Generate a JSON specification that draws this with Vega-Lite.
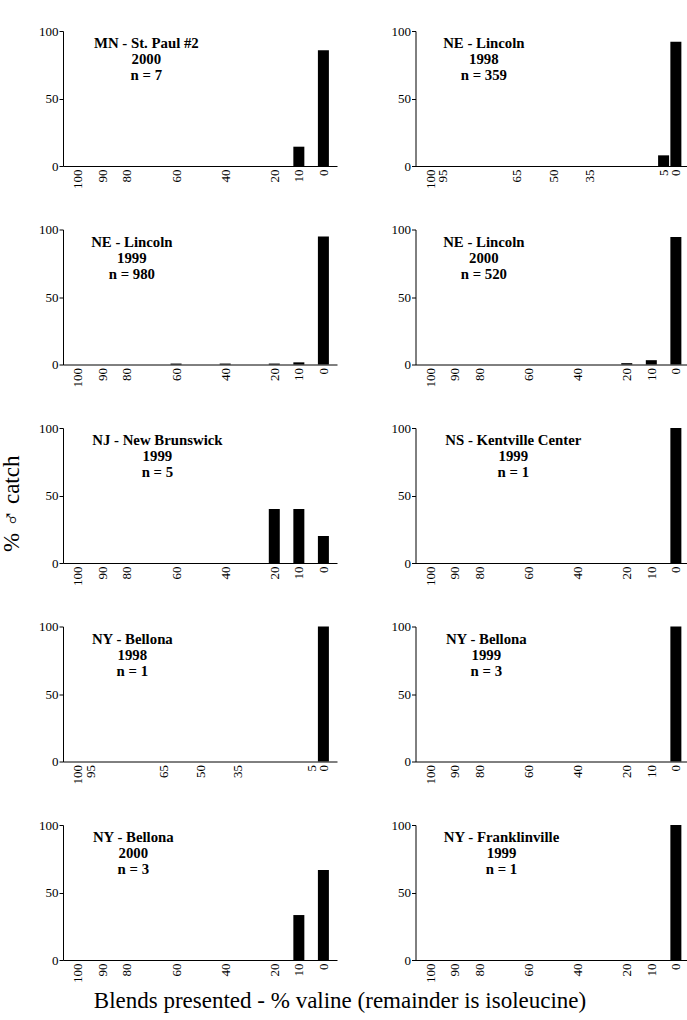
{
  "$schema": "https://vega.github.io/schema/vega-lite/v6.json",
  "padding": {"left": 0, "top": 25, "right": 0, "bottom": 0},
  "background": "white",
  "config": {
    "font": "Liberation Serif",
    "view": {"stroke": null},
    "axis": {"grid": false, "domainColor": "black", "tickColor": "black", "labelColor": "black", "labelFont": "Liberation Serif", "domainWidth": 1, "tickWidth": 1},
    "axisX": {"ticks": false, "labelAngle": -90, "labelPadding": 3, "labelFontSize": 13, "labelFlush": false, "labelOverlap": false, "labelBound": false, "labelSeparation": 0},
    "axisY": {"tickSize": 4, "labelPadding": 1, "labelFontSize": 13, "labelOverlap": false, "labelFlush": false},
    "text": {"font": "Liberation Serif", "fontWeight": "bold", "fontSize": 14.8, "lineHeight": 16, "align": "center", "baseline": "top", "color": "black", "lineBreak": "\n"},
    "bar": {"color": "black"}
  },
  "datasets": {
    "bars": [
      {"panel": "MN2000", "blend": 10, "pct": 14.3},
      {"panel": "MN2000", "blend": 0, "pct": 85.7},
      {"panel": "NE1998", "blend": 5, "pct": 7.9},
      {"panel": "NE1998", "blend": 0, "pct": 92.1},
      {"panel": "NE1999", "blend": 60, "pct": 0.7},
      {"panel": "NE1999", "blend": 40, "pct": 0.7},
      {"panel": "NE1999", "blend": 20, "pct": 0.7},
      {"panel": "NE1999", "blend": 10, "pct": 1.6},
      {"panel": "NE1999", "blend": 0, "pct": 94.8},
      {"panel": "NE2000", "blend": 20, "pct": 1.0},
      {"panel": "NE2000", "blend": 10, "pct": 3.2},
      {"panel": "NE2000", "blend": 0, "pct": 94.4},
      {"panel": "NJ1999", "blend": 20, "pct": 40},
      {"panel": "NJ1999", "blend": 10, "pct": 40},
      {"panel": "NJ1999", "blend": 0, "pct": 20},
      {"panel": "NS1999", "blend": 0, "pct": 100},
      {"panel": "NYB1998", "blend": 0, "pct": 100},
      {"panel": "NYB1999", "blend": 0, "pct": 100},
      {"panel": "NYB2000", "blend": 10, "pct": 33.3},
      {"panel": "NYB2000", "blend": 0, "pct": 66.7},
      {"panel": "NYF1999", "blend": 0, "pct": 100}
    ],
    "labels": [
      {"panel": "MN2000", "label": "MN - St. Paul #2\n2000\nn = 7"},
      {"panel": "NE1998", "label": "NE - Lincoln\n1998\nn = 359"},
      {"panel": "NE1999", "label": "NE - Lincoln\n1999\nn = 980"},
      {"panel": "NE2000", "label": "NE - Lincoln\n2000\nn = 520"},
      {"panel": "NJ1999", "label": "NJ - New Brunswick\n1999\nn = 5"},
      {"panel": "NS1999", "label": "NS - Kentville Center\n1999\nn = 1"},
      {"panel": "NYB1998", "label": "NY - Bellona\n1998\nn = 1"},
      {"panel": "NYB1999", "label": "NY - Bellona\n1999\nn = 3"},
      {"panel": "NYB2000", "label": "NY - Bellona\n2000\nn = 3"},
      {"panel": "NYF1999", "label": "NY - Franklinville\n1999\nn = 1"}
    ]
  },
  "title": {"text": "Blends presented - % valine (remainder is isoleucine)", "orient": "bottom", "anchor": "middle", "font": "Liberation Serif", "fontSize": 23, "fontWeight": "normal", "color": "black", "offset": 7, "dx": -4},
  "vconcat": [
    {
      "title": {"text": "% ♂ catch", "orient": "left", "anchor": "middle", "font": "Liberation Serif", "fontSize": 23, "fontWeight": "normal", "color": "black", "offset": 15},
      "spacing": 34.5,
      "vconcat": [
        {"spacing": 53.5, "hconcat": [
          {"width": 274, "height": 135, "layer": [
            {"data": {"name": "bars"}, "transform": [{"filter": "datum.panel === 'MN2000'"}], "mark": {"type": "bar", "width": 11},
             "encoding": {"x": {"field": "blend", "type": "quantitative", "title": null, "scale": {"domain": [104, -3.5], "nice": false, "zero": false}, "axis": {"values": [100, 90, 80, 60, 40, 20, 10, 0], "labelOverlap": false, "labelFlush": false}},
                          "y": {"field": "pct", "type": "quantitative", "title": null, "scale": {"domain": [0, 100], "nice": false}, "axis": {"values": [0, 50, 100]}}}},
            {"data": {"name": "labels"}, "transform": [{"filter": "datum.panel === 'MN2000'"}], "mark": {"type": "text"},
             "encoding": {"x": {"datum": 72.1, "type": "quantitative", "title": null, "axis": {"values": [100, 90, 80, 60, 40, 20, 10, 0], "labelOverlap": false, "labelFlush": false}}, "y": {"datum": 96, "type": "quantitative", "title": null, "axis": {"values": [0, 50, 100]}}, "text": {"field": "label"}}}
          ]},
          {"width": 272, "height": 135, "layer": [
            {"data": {"name": "bars"}, "transform": [{"filter": "datum.panel === 'NE1998'"}], "mark": {"type": "bar", "width": 11},
             "encoding": {"x": {"field": "blend", "type": "quantitative", "title": null, "scale": {"domain": [104, -2.7], "nice": false, "zero": false}, "axis": {"values": [100, 95, 65, 50, 35, 5, 0], "labelOverlap": false, "labelFlush": false}},
                          "y": {"field": "pct", "type": "quantitative", "title": null, "scale": {"domain": [0, 100], "nice": false}, "axis": {"values": [0, 50, 100]}}}},
            {"data": {"name": "labels"}, "transform": [{"filter": "datum.panel === 'NE1998'"}], "mark": {"type": "text"},
             "encoding": {"x": {"datum": 78.2, "type": "quantitative", "title": null, "axis": {"values": [100, 95, 65, 50, 35, 5, 0], "labelOverlap": false, "labelFlush": false}}, "y": {"datum": 96, "type": "quantitative", "title": null, "axis": {"values": [0, 50, 100]}}, "text": {"field": "label"}}}
          ]}
        ]},
        {"spacing": 53.5, "hconcat": [
          {"width": 274, "height": 135, "layer": [
            {"data": {"name": "bars"}, "transform": [{"filter": "datum.panel === 'NE1999'"}], "mark": {"type": "bar", "width": 11},
             "encoding": {"x": {"field": "blend", "type": "quantitative", "title": null, "scale": {"domain": [104, -3.5], "nice": false, "zero": false}, "axis": {"values": [100, 90, 80, 60, 40, 20, 10, 0], "labelOverlap": false, "labelFlush": false}},
                          "y": {"field": "pct", "type": "quantitative", "title": null, "scale": {"domain": [0, 100], "nice": false}, "axis": {"values": [0, 50, 100]}}}},
            {"data": {"name": "labels"}, "transform": [{"filter": "datum.panel === 'NE1999'"}], "mark": {"type": "text"},
             "encoding": {"x": {"datum": 78, "type": "quantitative", "title": null, "axis": {"values": [100, 90, 80, 60, 40, 20, 10, 0], "labelOverlap": false, "labelFlush": false}}, "y": {"datum": 96, "type": "quantitative", "title": null, "axis": {"values": [0, 50, 100]}}, "text": {"field": "label"}}}
          ]},
          {"width": 272, "height": 135, "layer": [
            {"data": {"name": "bars"}, "transform": [{"filter": "datum.panel === 'NE2000'"}], "mark": {"type": "bar", "width": 11},
             "encoding": {"x": {"field": "blend", "type": "quantitative", "title": null, "scale": {"domain": [104, -2.7], "nice": false, "zero": false}, "axis": {"values": [100, 90, 80, 60, 40, 20, 10, 0], "labelOverlap": false, "labelFlush": false}},
                          "y": {"field": "pct", "type": "quantitative", "title": null, "scale": {"domain": [0, 100], "nice": false}, "axis": {"values": [0, 50, 100]}}}},
            {"data": {"name": "labels"}, "transform": [{"filter": "datum.panel === 'NE2000'"}], "mark": {"type": "text"},
             "encoding": {"x": {"datum": 78.2, "type": "quantitative", "title": null, "axis": {"values": [100, 90, 80, 60, 40, 20, 10, 0], "labelOverlap": false, "labelFlush": false}}, "y": {"datum": 96, "type": "quantitative", "title": null, "axis": {"values": [0, 50, 100]}}, "text": {"field": "label"}}}
          ]}
        ]},
        {"spacing": 53.5, "hconcat": [
          {"width": 274, "height": 135, "layer": [
            {"data": {"name": "bars"}, "transform": [{"filter": "datum.panel === 'NJ1999'"}], "mark": {"type": "bar", "width": 11},
             "encoding": {"x": {"field": "blend", "type": "quantitative", "title": null, "scale": {"domain": [104, -3.5], "nice": false, "zero": false}, "axis": {"values": [100, 90, 80, 60, 40, 20, 10, 0], "labelOverlap": false, "labelFlush": false}},
                          "y": {"field": "pct", "type": "quantitative", "title": null, "scale": {"domain": [0, 100], "nice": false}, "axis": {"values": [0, 50, 100]}}}},
            {"data": {"name": "labels"}, "transform": [{"filter": "datum.panel === 'NJ1999'"}], "mark": {"type": "text"},
             "encoding": {"x": {"datum": 67.6, "type": "quantitative", "title": null, "axis": {"values": [100, 90, 80, 60, 40, 20, 10, 0], "labelOverlap": false, "labelFlush": false}}, "y": {"datum": 96, "type": "quantitative", "title": null, "axis": {"values": [0, 50, 100]}}, "text": {"field": "label"}}}
          ]},
          {"width": 272, "height": 135, "layer": [
            {"data": {"name": "bars"}, "transform": [{"filter": "datum.panel === 'NS1999'"}], "mark": {"type": "bar", "width": 11},
             "encoding": {"x": {"field": "blend", "type": "quantitative", "title": null, "scale": {"domain": [104, -2.7], "nice": false, "zero": false}, "axis": {"values": [100, 90, 80, 60, 40, 20, 10, 0], "labelOverlap": false, "labelFlush": false}},
                          "y": {"field": "pct", "type": "quantitative", "title": null, "scale": {"domain": [0, 100], "nice": false}, "axis": {"values": [0, 50, 100]}}}},
            {"data": {"name": "labels"}, "transform": [{"filter": "datum.panel === 'NS1999'"}], "mark": {"type": "text"},
             "encoding": {"x": {"datum": 66.2, "type": "quantitative", "title": null, "axis": {"values": [100, 90, 80, 60, 40, 20, 10, 0], "labelOverlap": false, "labelFlush": false}}, "y": {"datum": 96, "type": "quantitative", "title": null, "axis": {"values": [0, 50, 100]}}, "text": {"field": "label"}}}
          ]}
        ]},
        {"spacing": 53.5, "hconcat": [
          {"width": 274, "height": 135, "layer": [
            {"data": {"name": "bars"}, "transform": [{"filter": "datum.panel === 'NYB1998'"}], "mark": {"type": "bar", "width": 11},
             "encoding": {"x": {"field": "blend", "type": "quantitative", "title": null, "scale": {"domain": [104, -3.5], "nice": false, "zero": false}, "axis": {"values": [100, 95, 65, 50, 35, 5, 0], "labelOverlap": false, "labelFlush": false}},
                          "y": {"field": "pct", "type": "quantitative", "title": null, "scale": {"domain": [0, 100], "nice": false}, "axis": {"values": [0, 50, 100]}}}},
            {"data": {"name": "labels"}, "transform": [{"filter": "datum.panel === 'NYB1998'"}], "mark": {"type": "text"},
             "encoding": {"x": {"datum": 77.8, "type": "quantitative", "title": null, "axis": {"values": [100, 95, 65, 50, 35, 5, 0], "labelOverlap": false, "labelFlush": false}}, "y": {"datum": 96, "type": "quantitative", "title": null, "axis": {"values": [0, 50, 100]}}, "text": {"field": "label"}}}
          ]},
          {"width": 272, "height": 135, "layer": [
            {"data": {"name": "bars"}, "transform": [{"filter": "datum.panel === 'NYB1999'"}], "mark": {"type": "bar", "width": 11},
             "encoding": {"x": {"field": "blend", "type": "quantitative", "title": null, "scale": {"domain": [104, -2.7], "nice": false, "zero": false}, "axis": {"values": [100, 90, 80, 60, 40, 20, 10, 0], "labelOverlap": false, "labelFlush": false}},
                          "y": {"field": "pct", "type": "quantitative", "title": null, "scale": {"domain": [0, 100], "nice": false}, "axis": {"values": [0, 50, 100]}}}},
            {"data": {"name": "labels"}, "transform": [{"filter": "datum.panel === 'NYB1999'"}], "mark": {"type": "text"},
             "encoding": {"x": {"datum": 77.2, "type": "quantitative", "title": null, "axis": {"values": [100, 90, 80, 60, 40, 20, 10, 0], "labelOverlap": false, "labelFlush": false}}, "y": {"datum": 96, "type": "quantitative", "title": null, "axis": {"values": [0, 50, 100]}}, "text": {"field": "label"}}}
          ]}
        ]},
        {"spacing": 53.5, "hconcat": [
          {"width": 274, "height": 135, "layer": [
            {"data": {"name": "bars"}, "transform": [{"filter": "datum.panel === 'NYB2000'"}], "mark": {"type": "bar", "width": 11},
             "encoding": {"x": {"field": "blend", "type": "quantitative", "title": null, "scale": {"domain": [104, -3.5], "nice": false, "zero": false}, "axis": {"values": [100, 90, 80, 60, 40, 20, 10, 0], "labelOverlap": false, "labelFlush": false}},
                          "y": {"field": "pct", "type": "quantitative", "title": null, "scale": {"domain": [0, 100], "nice": false}, "axis": {"values": [0, 50, 100]}}}},
            {"data": {"name": "labels"}, "transform": [{"filter": "datum.panel === 'NYB2000'"}], "mark": {"type": "text"},
             "encoding": {"x": {"datum": 77.4, "type": "quantitative", "title": null, "axis": {"values": [100, 90, 80, 60, 40, 20, 10, 0], "labelOverlap": false, "labelFlush": false}}, "y": {"datum": 96, "type": "quantitative", "title": null, "axis": {"values": [0, 50, 100]}}, "text": {"field": "label"}}}
          ]},
          {"width": 272, "height": 135, "layer": [
            {"data": {"name": "bars"}, "transform": [{"filter": "datum.panel === 'NYF1999'"}], "mark": {"type": "bar", "width": 11},
             "encoding": {"x": {"field": "blend", "type": "quantitative", "title": null, "scale": {"domain": [104, -2.7], "nice": false, "zero": false}, "axis": {"values": [100, 90, 80, 60, 40, 20, 10, 0], "labelOverlap": false, "labelFlush": false}},
                          "y": {"field": "pct", "type": "quantitative", "title": null, "scale": {"domain": [0, 100], "nice": false}, "axis": {"values": [0, 50, 100]}}}},
            {"data": {"name": "labels"}, "transform": [{"filter": "datum.panel === 'NYF1999'"}], "mark": {"type": "text"},
             "encoding": {"x": {"datum": 71, "type": "quantitative", "title": null, "axis": {"values": [100, 90, 80, 60, 40, 20, 10, 0], "labelOverlap": false, "labelFlush": false}}, "y": {"datum": 96, "type": "quantitative", "title": null, "axis": {"values": [0, 50, 100]}}, "text": {"field": "label"}}}
          ]}
        ]}
      ]
    }
  ]
}
